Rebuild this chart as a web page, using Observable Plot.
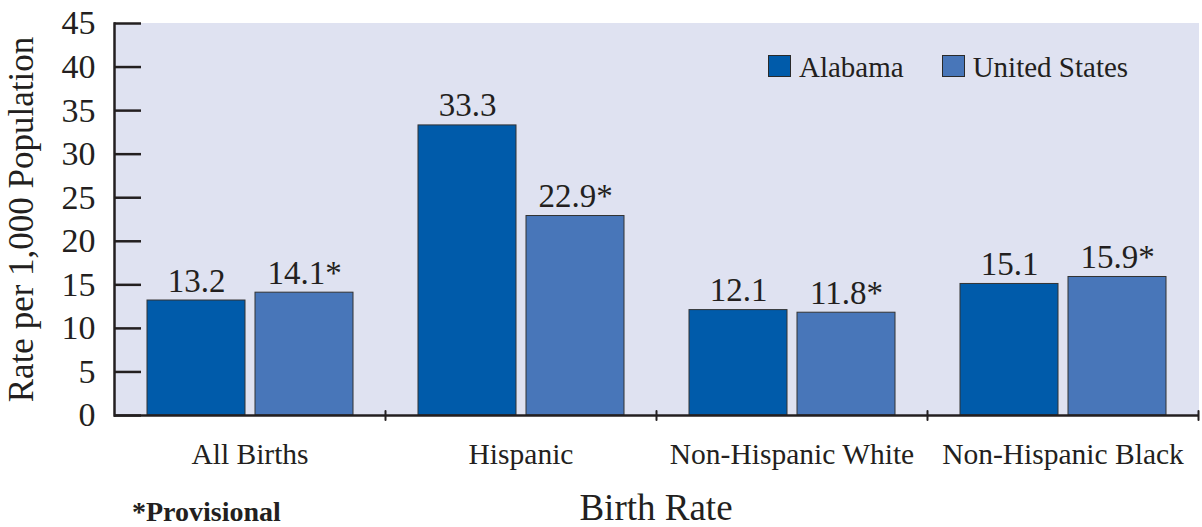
<!DOCTYPE html>
<html>
<head>
<meta charset="utf-8">
<script src="https://cdn.jsdelivr.net/npm/d3@7"></script>
<script src="https://cdn.jsdelivr.net/npm/@observablehq/plot@0.6"></script>
<style>
  html, body { margin: 0; padding: 0; background: #fff; }
  #wrap { position: relative; width: 1202px; height: 527px; overflow: hidden; font-family: "Liberation Serif", serif; color: #231f20; }
  #legend { position: absolute; left: 768px; top: 53px; font-size: 29px; line-height: 29px; white-space: nowrap; }
  #legend .item { display: inline-block; margin-right: 38px; }
  #legend .sw { display: inline-block; width: 21px; height: 20px; border: 1px solid #2a2a2a; margin-right: 8px; }
  #bottom { position: relative; width: 1202px; height: 37px; }
  #xtitle { position: absolute; left: 0; width: 1202px; padding-left: 110px; box-sizing: border-box; text-align: center; top: -1px; font-size: 37px; line-height: 37px; }
  #xtitle span { display: inline-block; }
  #note { position: absolute; left: 132px; top: 8px; font-size: 28px; line-height: 28px; font-weight: bold; }
</style>
</head>
<body>
<div id="wrap">
  <div id="chart"></div>
  <div id="legend"></div>
  <div id="bottom"><div id="xtitle"></div><div id="note"></div></div>
</div>
<script>
const categories = ["All Births", "Hispanic", "Non-Hispanic White", "Non-Hispanic Black"];
const seriesNames = ["Alabama", "United States"];
const alabama = [13.2, 33.3, 12.1, 15.1];
const unitedStates = [14.1, 22.9, 11.8, 15.9];
const provisional = [false, true]; // United States values marked provisional (*)
const yTicks = [0, 5, 10, 15, 20, 25, 30, 35, 40, 45];
const colors = ["#005baa", "#4876b9"];
const yTitle = "Rate per 1,000 Population";
const xTitle = "Birth Rate";
const noteText = "*Provisional";

const seriesValues = [alabama, unitedStates];
const data = categories.flatMap((c, i) => seriesNames.map((s, j) => ({
  category: c,
  series: s,
  value: seriesValues[j][i],
  label: d3.format(".1f")(seriesValues[j][i]) + (provisional[j] ? "*" : "")
})));

const ink = "#231f20";
const bg = "#dfe2f1";
const tickShape = { draw(context, length) { context.moveTo(0, 0); context.lineTo(0, -length); } };

const chart = Plot.plot({
  width: 1202,
  height: 490,
  marginLeft: 113,
  marginRight: 4,
  marginTop: 23,
  marginBottom: 75,
  style: { fontFamily: "Liberation Serif, serif", color: ink, background: "transparent", overflow: "visible" },
  fx: { domain: categories, padding: 0, label: null },
  x: { domain: seriesNames, paddingInner: 0.093, paddingOuter: 0.3, axis: null },
  y: { domain: [0, 45], label: null },
  color: { domain: seriesNames, range: colors },
  marks: [
    Plot.frame({ fill: bg, stroke: bg, strokeWidth: 1 }),
    Plot.barY(data, { fx: "category", x: "series", y: "value", fill: "series", stroke: "#333", strokeWidth: 1 }),
    Plot.text(data, { fx: "category", x: "series", y: "value", text: "label", lineAnchor: "bottom", dy: -9, fontSize: 33, fill: ink }),
    Plot.ruleY([0], { stroke: ink, strokeWidth: 2.5 }),
    Plot.frame({ anchor: "left", facetAnchor: "left", stroke: ink, strokeWidth: 2.5 }),
    Plot.vectorY([0], { frameAnchor: "bottom-right", length: 9, shape: tickShape, stroke: ink, strokeWidth: 2 }),
    Plot.axisY({ ticks: yTicks, tickSize: -27, tickFormat: () => "", strokeWidth: 2.5, stroke: ink }),
    Plot.axisY({ ticks: yTicks, tickSize: 0, tickPadding: 19, fontSize: 34, fill: ink, label: null }),
    Plot.axisY({ ticks: [], label: yTitle, labelArrow: "none", labelAnchor: "center", labelOffset: 106, dy: -16, fontSize: 35, fill: ink }),
    Plot.axisFx({ anchor: "bottom", tickSize: 0, tickPadding: 28, fontSize: 29.5, fill: ink, label: null })
  ]
});
document.getElementById("chart").appendChild(chart);

const legend = d3.select("#legend");
seriesNames.forEach((s, j) => {
  const item = legend.append("span").attr("class", "item");
  item.append("span").attr("class", "sw").style("background", colors[j]);
  item.append("span").text(s);
});
d3.select("#xtitle").append("span").text(xTitle);
d3.select("#note").text(noteText);
</script>
</body>
</html>
